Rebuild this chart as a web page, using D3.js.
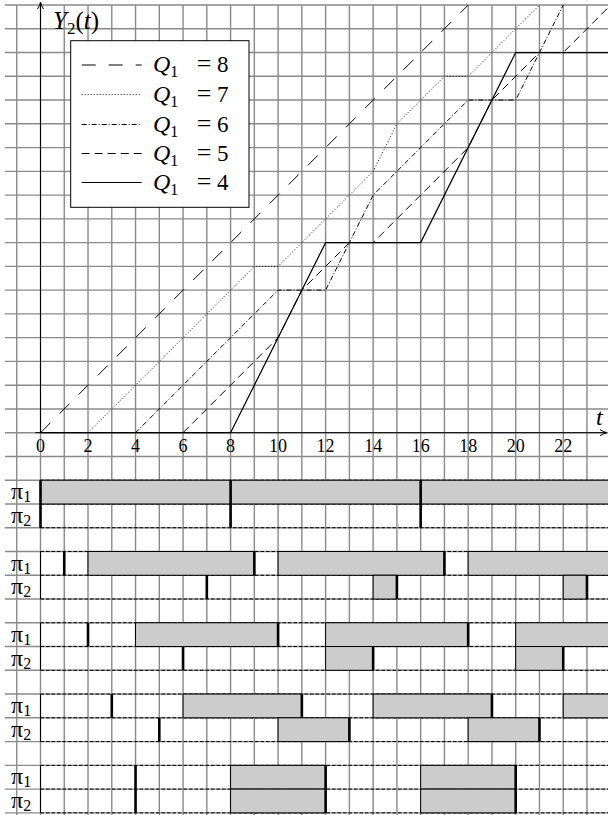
<!DOCTYPE html>
<html>
<head>
<meta charset="utf-8">
<script src="https://cdn.jsdelivr.net/npm/d3@7"></script>
<style>
  body { margin: 0; background: #fff; }
  svg { display: block; }
</style>
</head>
<body>
<div id="chart"></div>
<script>
// Y2(t) curves, one per Q1 value (breakpoints)
var qValues = [8, 7, 6, 5, 4];
var q8 = [[0, 0], [18, 18]];
var q7 = [[2, 0], [9, 7], [10, 7], [14, 11], [15, 13], [17, 15], [18, 15], [21, 18]];
var q6 = [[4, 0], [10, 6], [12, 6], [14, 10], [18, 14], [20, 14], [22, 18]];
var q5 = [[6, 0], [10, 4], [11, 6], [13, 8], [14, 8], [18, 12], [19, 14], [21, 16], [22, 16], [24, 18]];
var q4 = [[0, 0], [8, 0], [12, 8], [16, 8], [20, 16], [24.5, 16]];
var tTicks = [0, 2, 4, 6, 8, 10, 12, 14, 16, 18, 20, 22];

// schedules: [group, processor, start, end]
var busy = [
  [0, 1, 0, 8], [0, 1, 8, 16], [0, 1, 16, 24.5],
  [1, 1, 2, 9], [1, 1, 10, 17], [1, 1, 18, 24.5], [1, 2, 14, 15], [1, 2, 22, 23],
  [2, 1, 4, 10], [2, 1, 12, 18], [2, 1, 20, 24.5], [2, 2, 12, 14], [2, 2, 20, 22],
  [3, 1, 6, 11], [3, 1, 14, 19], [3, 1, 22, 24.5], [3, 2, 10, 13], [3, 2, 18, 21],
  [4, 1, 8, 12], [4, 1, 16, 20], [4, 2, 8, 12], [4, 2, 16, 20]
];
// thick marks: [group, processor (0 = both), t]
var marks = [
  [0, 0, 0], [0, 0, 8], [0, 0, 16],
  [1, 1, 1], [1, 1, 9], [1, 1, 17], [1, 2, 7], [1, 2, 15], [1, 2, 23],
  [2, 1, 2], [2, 1, 10], [2, 1, 18], [2, 2, 6], [2, 2, 14], [2, 2, 22],
  [3, 1, 3], [3, 1, 11], [3, 1, 19], [3, 2, 5], [3, 2, 13], [3, 2, 21],
  [4, 0, 4], [4, 0, 12], [4, 0, 20]
];

var width = 608,
  height = 815,
  svg = d3
    .select("#chart")
    .append("svg")
    .attr("width", width)
    .attr("height", height);

var serif = "Liberation Serif";

var x = d3.scaleLinear().domain([0, 24]).range([40.5, 40.5 + 24 * 23.76]);
var y = d3.scaleLinear().domain([0, 18]).range([432.7, 432.7 - 18 * 23.76]);

// grid
var grid = svg.append("g").attr("stroke", "#8a8a8a").attr("stroke-width", 1.4);
grid.selectAll("line.v")
  .data(d3.range(-1, 25))
  .enter()
  .append("line")
  .attr("x1", d => x(d)).attr("x2", d => x(d))
  .attr("y1", y(18)).attr("y2", y(-16.3));
grid.selectAll("line.h")
  .data(d3.range(-16, 19))
  .enter()
  .append("line")
  .attr("x1", x(-1.5)).attr("x2", width)
  .attr("y1", d => y(d)).attr("y2", d => y(d));

// axes
svg.append("line")
  .attr("x1", x(-0.22)).attr("x2", width - 1)
  .attr("y1", y(0)).attr("y2", y(0))
  .attr("stroke", "black").attr("stroke-width", 1);
svg.append("line")
  .attr("x1", x(0)).attr("x2", x(0))
  .attr("y1", y(0)).attr("y2", 2)
  .attr("stroke", "black").attr("stroke-width", 1);
svg.append("path")
  .attr("d", `M${width - 8},${y(0) - 3} Q${width - 4},${y(0) - 0.5} ${width - 1},${y(0)} Q${width - 4},${y(0) + 0.5} ${width - 8},${y(0) + 3}`)
  .attr("fill", "none").attr("stroke", "black").attr("stroke-width", 1);
svg.append("path")
  .attr("d", `M${x(0) - 3},9 Q${x(0) - 0.5},5 ${x(0)},2 Q${x(0) + 0.5},5 ${x(0) + 3},9`)
  .attr("fill", "none").attr("stroke", "black").attr("stroke-width", 1);

svg.selectAll("text.tick")
  .data(tTicks)
  .enter()
  .append("text")
  .attr("x", d => x(d))
  .attr("y", y(0) + 19)
  .attr("text-anchor", "middle")
  .attr("font-family", serif)
  .attr("font-size", 18)
  .text(d => d);

svg.append("text")
  .attr("x", 596).attr("y", 425)
  .attr("font-family", serif).attr("font-size", 24).attr("font-style", "italic")
  .text("t");

var ylab = svg.append("text")
  .attr("x", 53).attr("y", 29)
  .attr("font-family", serif).attr("font-size", 25);
ylab.append("tspan").attr("font-style", "italic").text("Y");
ylab.append("tspan").attr("dy", 5).attr("font-size", 17).text("2");
ylab.append("tspan").attr("dy", -5).text("(");
ylab.append("tspan").attr("font-style", "italic").text("t");
ylab.append("tspan").text(")");

// curves
var series = [
  { q: 8, pts: q8, dash: "14,13", w: 1 },
  { q: 7, pts: q7, dash: "1,2", w: 0.9 },
  { q: 6, pts: q6, dash: "5,2,1,2", w: 1 },
  { q: 5, pts: q5, dash: "8,5", w: 1 },
  { q: 4, pts: q4, dash: null, w: 1.2 }
];
var line = d3.line().x(d => x(d[0])).y(d => y(d[1]));

svg.selectAll("path.curve")
  .data(series)
  .enter()
  .append("path")
  .attr("d", d => line(d.pts))
  .attr("fill", "none")
  .attr("stroke", "black")
  .attr("stroke-width", d => d.w)
  .attr("stroke-dasharray", d => d.dash);

// legend
var legend = svg.append("g");
legend.append("rect")
  .attr("x", 70.7).attr("y", 40.7)
  .attr("width", 178.3).attr("height", 166.6)
  .attr("fill", "white").attr("stroke", "black").attr("stroke-width", 1);
var rowY = [65, 94.5, 124.5, 153.5, 182.5];
series.forEach(function(s, i) {
  legend.append("line")
    .attr("x1", 81.7).attr("x2", 141.7)
    .attr("y1", rowY[i]).attr("y2", rowY[i])
    .attr("stroke", "black")
    .attr("stroke-width", s.w)
    .attr("stroke-dasharray", s.dash);
  var t = legend.append("text")
    .attr("x", 153).attr("y", rowY[i] + 7)
    .attr("font-family", serif).attr("font-size", 24);
  t.append("tspan").attr("font-style", "italic").text("Q");
  t.append("tspan").attr("dy", 5).attr("font-size", 16).text("1");
  legend.append("text")
    .attr("x", 204).attr("y", rowY[i] + 7)
    .attr("text-anchor", "middle")
    .attr("font-family", serif).attr("font-size", 26)
    .text("=");
  legend.append("text")
    .attr("x", 217).attr("y", rowY[i] + 7)
    .attr("font-family", serif).attr("font-size", 23)
    .text(s.q);
});

// schedules
function rowTop(g, p) { return -2 - 3 * g - (p - 1); }

var sched = svg.append("g");
qValues.forEach(function(q, g) {
  [0, 1, 2].forEach(function(k) {
    sched.append("line")
      .attr("x1", x(0)).attr("x2", width)
      .attr("y1", y(-2 - 3 * g - k)).attr("y2", y(-2 - 3 * g - k))
      .attr("stroke", "black").attr("stroke-width", 1)
      .attr("stroke-dasharray", "3.5,2");
  });
  sched.append("line")
    .attr("x1", x(0)).attr("x2", x(0))
    .attr("y1", y(-2 - 3 * g)).attr("y2", y(-4 - 3 * g))
    .attr("stroke", "black").attr("stroke-width", 1);
  [1, 2].forEach(function(p) {
    var lab = sched.append("text")
      .attr("x", 11).attr("y", y(rowTop(g, p)) + 19)
      .attr("font-family", serif).attr("font-size", 24);
    lab.append("tspan").text("π");
    lab.append("tspan").attr("dy", 3).attr("font-size", 16).text(p);
  });
});

sched.selectAll("rect.busy")
  .data(busy)
  .enter()
  .append("rect")
  .attr("x", d => x(d[2]))
  .attr("width", d => x(d[3]) - x(d[2]))
  .attr("y", d => y(rowTop(d[0], d[1])))
  .attr("height", d => y(rowTop(d[0], d[1]) - 1) - y(rowTop(d[0], d[1])))
  .attr("fill", "#cccccc")
  .attr("stroke", "black")
  .attr("stroke-width", 1);

sched.selectAll("line.mark")
  .data(marks)
  .enter()
  .append("line")
  .attr("x1", d => x(d[2])).attr("x2", d => x(d[2]))
  .attr("y1", d => y(rowTop(d[0], d[1] === 2 ? 2 : 1)))
  .attr("y2", d => y(rowTop(d[0], d[1] === 1 ? 1 : 2) - 1))
  .attr("stroke", "black")
  .attr("stroke-width", 2.6);
</script>
</body>
</html>
